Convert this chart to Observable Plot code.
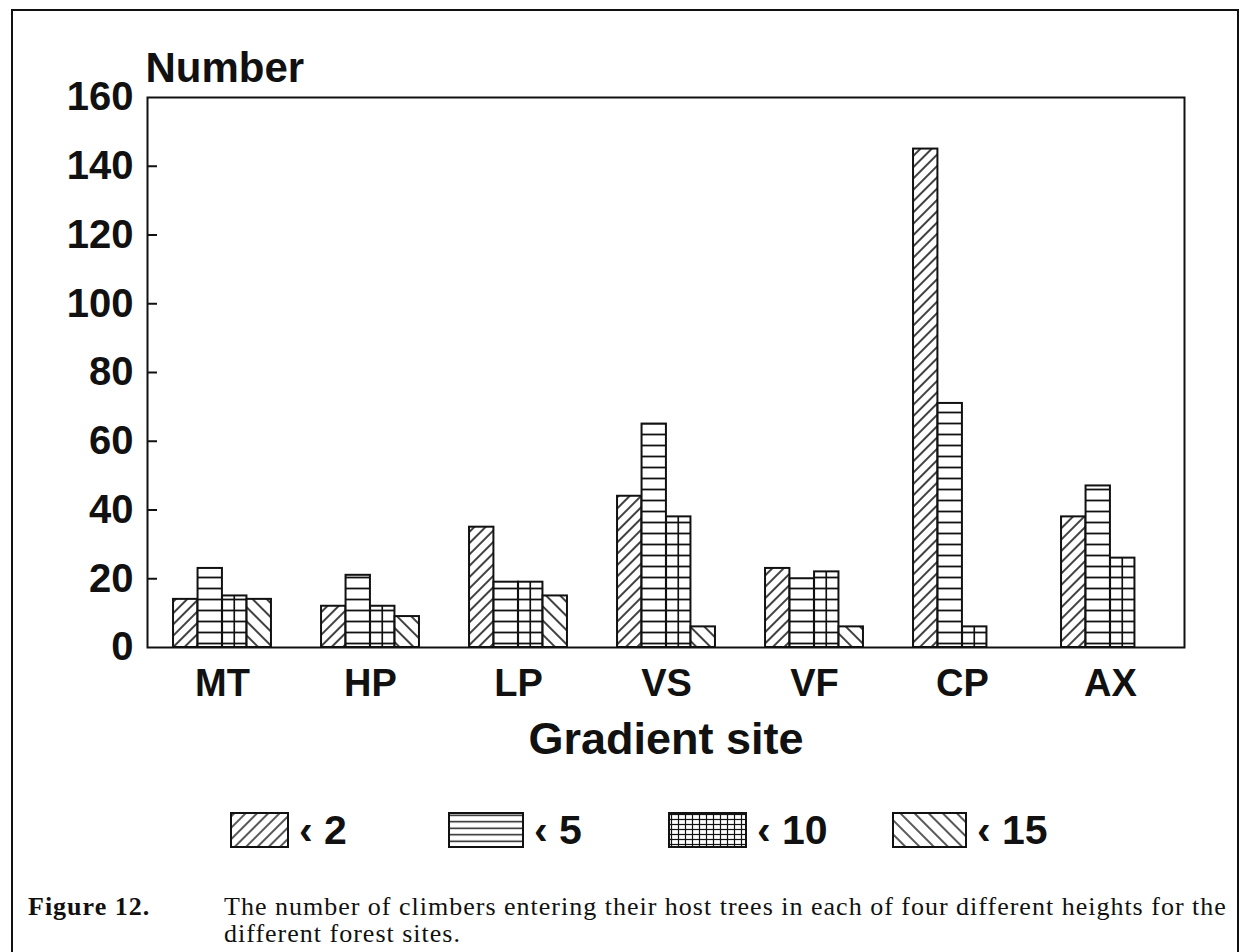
<!DOCTYPE html>
<html><head><meta charset="utf-8">
<script src="https://cdn.jsdelivr.net/npm/d3@7"></script>
<script src="https://cdn.jsdelivr.net/npm/@observablehq/plot@0.6"></script>
<style>
body{margin:0;background:#fff;}
#page{position:relative;width:1245px;height:952px;overflow:hidden;background:#fff;font-family:"Liberation Sans",Arial,sans-serif;color:#111;}
#border{position:absolute;left:11px;top:9px;width:1224px;height:1000px;border:2px solid #111;}
#chart{position:absolute;left:0;top:0;}
#chart g[aria-label="x-axis tick label"]{font-size:38px;}
#chart g[aria-label="y-axis tick label"]{font-size:40px;}
.leg{position:absolute;top:812px;height:36px;display:flex;align-items:center;}
.leg span{font-size:41px;font-weight:bold;margin-left:10px;line-height:36px;}
.cap{position:absolute;font-family:"Liberation Serif","Times New Roman",serif;font-size:26px;letter-spacing:1px;line-height:26px;color:#111;white-space:nowrap;}
</style></head><body>
<div id="page">
<div id="border"></div>
<svg width="0" height="0" style="position:absolute">
<defs>
<pattern id="pat0" patternUnits="userSpaceOnUse" width="8" height="8" patternTransform="rotate(45)"><rect width="8" height="8" fill="#fff"/><line x1="4" y1="0" x2="4" y2="8" stroke="#111" stroke-width="1.6"/></pattern>
<pattern id="pat1" patternUnits="userSpaceOnUse" width="10" height="11"><rect width="10" height="11" fill="#fff"/><line x1="0" y1="5.5" x2="10" y2="5.5" stroke="#111" stroke-width="1.8"/></pattern>
<pattern id="pat2" patternUnits="userSpaceOnUse" width="10" height="11"><rect width="10" height="11" fill="#fff"/><line x1="0" y1="5.5" x2="10" y2="5.5" stroke="#111" stroke-width="1.8"/></pattern>
<pattern id="pat3" patternUnits="userSpaceOnUse" width="10" height="10" patternTransform="rotate(-45)"><rect width="10" height="10" fill="#fff"/><line x1="5" y1="0" x2="5" y2="10" stroke="#111" stroke-width="1.6"/></pattern>
<pattern id="leg0" patternUnits="userSpaceOnUse" width="8" height="8" patternTransform="rotate(45)"><rect width="8" height="8" fill="#fff"/><line x1="4" y1="0" x2="4" y2="8" stroke="#111" stroke-width="1.4"/></pattern>
<pattern id="leg1" patternUnits="userSpaceOnUse" width="10" height="6.5"><rect width="10" height="6.5" fill="#fff"/><line x1="0" y1="3.25" x2="10" y2="3.25" stroke="#111" stroke-width="1.4"/></pattern>
<pattern id="leg2" patternUnits="userSpaceOnUse" width="7" height="5"><rect width="7" height="5" fill="#fff"/><line x1="0" y1="2.5" x2="7" y2="2.5" stroke="#111" stroke-width="1.2"/><line x1="3.5" y1="0" x2="3.5" y2="5" stroke="#111" stroke-width="1.2"/></pattern>
<pattern id="leg3" patternUnits="userSpaceOnUse" width="10" height="10" patternTransform="rotate(-45)"><rect width="10" height="10" fill="#fff"/><line x1="5" y1="0" x2="5" y2="10" stroke="#111" stroke-width="1.4"/></pattern>
</defs>
</svg>
<div id="chart"></div>
<div class="cap" style="left:28px;top:894px;font-weight:bold">Figure 12.</div>
<div class="cap" style="left:224px;top:894px">The number of climbers entering their host trees in each of four different heights for the</div>
<div class="cap" style="left:224px;top:921px">different forest sites.</div>
</div>
<script>
// ---- data ----
const sites = ["MT", "HP", "LP", "VS", "VF", "CP", "AX"];
const heightClasses = ["< 2", "< 5", "< 10", "< 15"];
const legendLabels = ["\u2039 2", "\u2039 5", "\u2039 10", "\u2039 15"];
const lt2 = [14, 12, 35, 44, 23, 145, 38];
const lt5 = [23, 21, 19, 65, 20, 71, 47];
const lt10 = [15, 12, 19, 38, 22, 6, 26];
const lt15 = [14, 9, 15, 6, 6, 0, 0];
const yTicks = [0, 20, 40, 60, 80, 100, 120, 140, 160];
const yTitle = "Number";
const xTitle = "Gradient site";

// ---- build table ----
const seriesValues = [lt2, lt5, lt10, lt15];
const rows = [];
heightClasses.forEach((cls, i) => {
  sites.forEach((site, j) => rows.push({site, cls, value: seriesValues[i][j]}));
});

const W = 1245, H = 780, ML = 147, MR = 61, MT = 97, MB = 133;
const fw = W - ML - MR;
const bw = fw / sites.length;
const barW = bw * 0.1655;
const gp = (bw - heightClasses.length * barW) / 2;

const marks = [];
heightClasses.forEach((cls, i) => {
  marks.push(Plot.barY(rows.filter(r => r.cls === cls && r.value > 0), {
    x: "site", y: "value",
    fill: `url(#pat${i})`, stroke: "#111", strokeWidth: 2,
    insetLeft: gp + i * barW, insetRight: bw - gp - (i + 1) * barW
  }));
});
// central vertical line of the grid (< 10) bars
marks.push(Plot.barY(rows.filter(r => r.cls === "< 10" && r.value > 0), {
  x: "site", y: "value", fill: "#111",
  insetLeft: gp + 2.5 * barW - 0.9, insetRight: bw - gp - 2.5 * barW - 0.9
}));
marks.push(Plot.ruleY(yTicks.filter(t => t > 0 && t < 160), {stroke: "#111", strokeWidth: 2, insetRight: fw - 10}));
marks.push(Plot.frame({stroke: "#111", strokeWidth: 2}));
marks.push(Plot.text([yTitle], {frameAnchor: "top-left", textAnchor: "start", lineAnchor: "bottom", dx: -2, dy: -16, fontSize: 42, fontWeight: "bold", fill: "#111"}));
marks.push(Plot.text([xTitle], {frameAnchor: "bottom", lineAnchor: "middle", dy: 92, fontSize: 45, fontWeight: "bold", fill: "#111"}));

const chart = Plot.plot({
  width: W, height: H,
  marginLeft: ML, marginRight: MR, marginTop: MT, marginBottom: MB,
  style: {fontFamily: "'Liberation Sans', Arial, sans-serif", fontSize: "38px", fontWeight: "bold", color: "#111", background: "transparent"},
  x: {domain: sites, padding: 0, tickSize: 0, tickPadding: 22, label: null},
  y: {domain: [0, 160], ticks: yTicks, tickSize: 0, tickPadding: 14, label: null, tickFormat: d => String(d)},
  marks
});
document.getElementById("chart").appendChild(chart);

// ---- legend ----
const legX = [230, 448, 668, 892];
const legW = [57, 74, 77, 73];
const page = document.getElementById("page");
heightClasses.forEach((cls, i) => {
  const div = document.createElement("div");
  div.className = "leg";
  div.style.left = legX[i] + "px";
  const svg = d3.create("svg").attr("width", legW[i] + 2).attr("height", 36);
  svg.append("rect").attr("x", 1).attr("y", 1).attr("width", legW[i]).attr("height", 34)
    .attr("fill", `url(#leg${i})`).attr("stroke", "#111").attr("stroke-width", 2);
  div.appendChild(svg.node());
  const sp = document.createElement("span");
  sp.textContent = legendLabels[i];
  div.appendChild(sp);
  page.appendChild(div);
});
</script>
</body></html>
